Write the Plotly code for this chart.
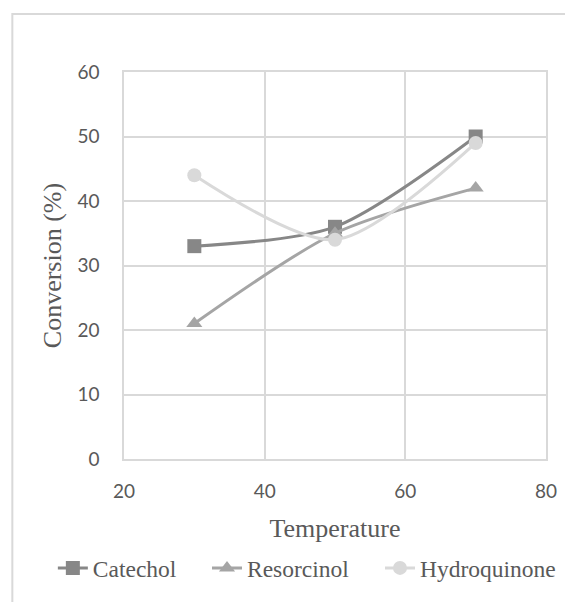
import plotly.graph_objects as go

temperature = [30, 50, 70]
catechol = [33, 36, 50]
resorcinol = [21, 35, 42]
hydroquinone = [44, 34, 49]

x_ticks = [20, 40, 60, 80]
y_ticks = [0, 10, 20, 30, 40, 50, 60]

serif = "Liberation Serif, Times New Roman, serif"
sans = "Lato, Open Sans, sans-serif"

fig = go.Figure()
series = [
    ("Catechol", catechol, "#878787", "square", "legend", -0.1686),
    ("Resorcinol", resorcinol, "#a5a5a5", "triangle-up", "legend2", 0.1967),
    ("Hydroquinone", hydroquinone, "#d9d9d9", "circle", "legend3", 0.6066),
]
legend_cfg = {}
for name, vals, col, sym, leg, lx in series:
    fig.add_trace(go.Scatter(
        x=temperature, y=vals, name=name, mode="lines+markers",
        line=dict(color=col, width=3, shape="spline", smoothing=0.8),
        marker=dict(symbol=sym, size=14, color=col),
        legend=leg,
    ))
    legend_cfg[leg] = dict(orientation="h", x=lx, xanchor="left", y=-0.282, yanchor="middle",
                           font=dict(family=serif, size=23.5, color="#595959"),
                           bgcolor="rgba(0,0,0,0)")

fig.update_layout(
    width=565, height=594,
    margin=dict(l=116, r=22, t=64, b=143),
    paper_bgcolor="white", plot_bgcolor="white",
    showlegend=True,
    shapes=[dict(type="rect", xref="paper", yref="paper",
                 x0=-0.2646, x1=1.3, y0=-0.6, y1=1.15,
                 line=dict(color="#d9d9d9", width=2), layer="below")],
    **legend_cfg,
)
fig.update_xaxes(
    range=[20, 80], tickvals=x_ticks, showgrid=True, gridcolor="#d9d9d9", gridwidth=1.5,
    zeroline=False, showline=True, linecolor="#d9d9d9", linewidth=1.5, mirror=True,
    ticks="outside", ticklen=14, tickcolor="rgba(0,0,0,0)", automargin=False,
    tickfont=dict(family=sans, size=19, color="#595959"),
    title=dict(text="Temperature", font=dict(family=serif, size=26, color="#595959"), standoff=18),
)
fig.update_yaxes(
    range=[0, 60], tickvals=y_ticks, showgrid=True, gridcolor="#d9d9d9", gridwidth=1.5,
    zeroline=False, showline=True, linecolor="#d9d9d9", linewidth=1.5, mirror=True,
    ticks="outside", ticklen=19, tickcolor="rgba(0,0,0,0)", automargin=False,
    tickfont=dict(family=sans, size=19, color="#595959"),
    title=dict(text="Conversion (%)", font=dict(family=serif, size=26, color="#595959"), standoff=8),
)

fig.write_html("out.html")
